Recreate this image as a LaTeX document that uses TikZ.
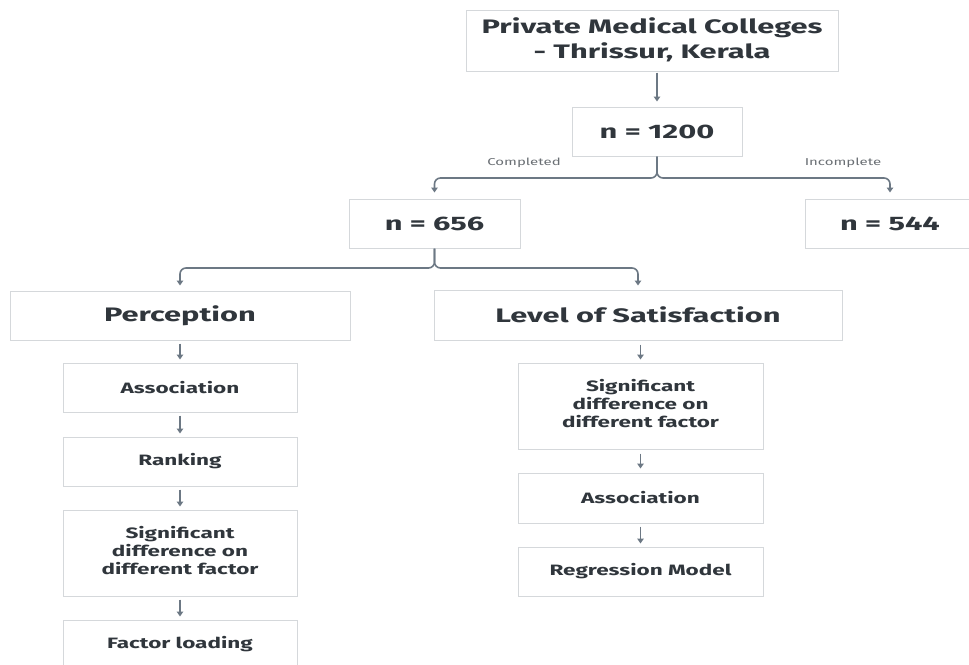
\documentclass[tikz,border=0pt]{standalone}
\usepackage{fontspec}
\setmainfont{Fira Sans}
\usepackage{graphicx}
\usetikzlibrary{arrows.meta}
\definecolor{txt}{HTML}{30363C}
\definecolor{bord}{HTML}{D5D8DB}
\definecolor{arr}{HTML}{6C7884}
\definecolor{lblc}{HTML}{6A6F74}
\newcommand\wideB[1]{\scalebox{1.58}[1]{#1}}
\newcommand\wideS[1]{\scalebox{1.5}[1]{#1}}
\newcommand\stack[1]{\begin{tabular}{@{}c@{}}#1\end{tabular}}
\tikzset{
  box/.style={draw=bord, line width=1pt, fill=white, inner sep=0pt, text=txt},
  big/.style={box, font=\fontsize{19.5}{25}\selectfont\bfseries},
  small/.style={box, font=\fontsize{15}{18}\selectfont\bfseries, minimum width=234pt, minimum height=49pt},
  smallr/.style={small, minimum width=245pt},
  link/.style={draw=arr, line width=1.6pt, -{Triangle[length=5pt,width=6.5pt]}, rounded corners=6pt},
  lbl/.style={text=lblc, font=\fontsize{10}{12}\selectfont}
}
\begin{document}
\begin{tikzpicture}[x=1pt,y=-1pt]
\path[use as bounding box, clip] (0,0) rectangle (969,664);
\fill[white] (0,0) rectangle (969,664);
% top part
\node[big, minimum width=372pt, minimum height=61pt] (top) at (652,40.5)
  {\wideB{\stack{Private Medical Colleges\\- Thrissur, Kerala}}};
\node[big, minimum width=170pt, minimum height=49pt] (n1200) at (657,131.5) {\wideB{n = 1200}};
\node[big, minimum width=171pt, minimum height=49pt] (n656) at (434.5,223.5) {\wideB{n = 656}};
\node[big, minimum width=170pt, minimum height=49pt] (n544) at (890,223.5) {\wideB{n = 544}};
\node[lbl] (lc) at (524,163) {\wideS{Completed}};
\node[lbl] (li) at (843,163) {\wideS{Incomplete}};
% second level
\node[big, minimum width=340pt, minimum height=49pt] (perc) at (180,315.5) {\wideB{Perception}};
\node[big, minimum width=408pt, minimum height=50pt] (level) at (638,315) {\wideB{Level of Satisfaction}};
% left chain
\node[small] (l1) at (180,387.5) {\wideS{Association}};
\node[small] (l2) at (180,461.5) {\wideS{Ranking}};
\node[small, minimum height=86pt] (l3) at (180,553) {\wideS{\stack{Significant\\difference on\\different factor}}};
\node[small] (l4) at (180,644.5) {\wideS{Factor loading}};
% right chain
\node[smallr, minimum height=86pt] (r1) at (640.5,406) {\wideS{\stack{Significant\\difference on\\different factor}}};
\node[smallr, minimum height=50pt] (r2) at (640.5,498) {\wideS{Association}};
\node[smallr] (r3) at (640.5,571.5) {\wideS{Regression Model}};
% connectors
\draw[link] ([yshift=-1pt]top.south -| n1200.north) -- ([yshift=5pt]n1200.north);
\coordinate (b1) at (657,178);
\draw[link] (n1200.south) -- (b1) -- (b1 -| n656.north) -- ([yshift=6pt]n656.north);
\draw[link] (n1200.south) -- (b1) -- (b1 -| n544.north) -- ([yshift=6pt]n544.north);
\coordinate (b2) at (434.5,268);
\draw[link] (n656.south) -- (b2) -- (b2 -| perc.north) -- ([yshift=5pt]perc.north);
\draw[link] (n656.south) -- (b2) -- (b2 -| level.north) -- ([yshift=4pt]level.north);
\draw[link] ([yshift=-3pt]perc.south) -- ([yshift=3pt]l1.north);
\draw[link] ([yshift=-3pt]l1.south) -- ([yshift=3pt]l2.north);
\draw[link] ([yshift=-3pt]l2.south) -- ([yshift=3pt]l3.north);
\draw[link] ([yshift=-3pt]l3.south) -- ([yshift=3pt]l4.north);
\draw[link] ([yshift=-4pt]level.south -| r1.north) -- ([yshift=3pt]r1.north);
\draw[link] ([yshift=-4pt]r1.south) -- ([yshift=4pt]r2.north);
\draw[link] ([yshift=-3pt]r2.south) -- ([yshift=3pt]r3.north);
\end{tikzpicture}
\end{document}
